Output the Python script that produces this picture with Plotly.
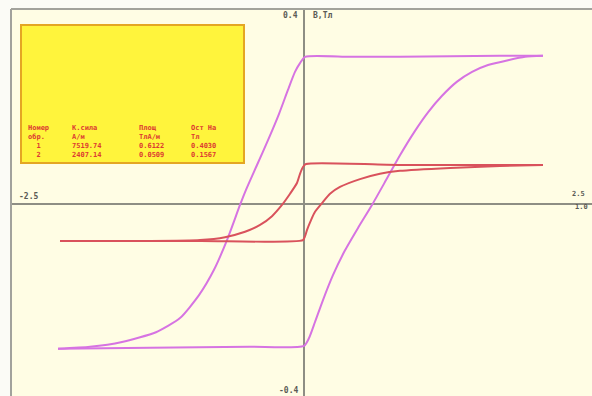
import plotly.graph_objects as go

# Hysteresis loops: field H (axis units) vs induction B (T)
# Loop 1 (magenta) - descending and ascending branches
loop1_desc_h = [2.039, 1.672, 1.246, 0.819, 0.392, 0.009, -0.034, -0.077, -0.137, -0.213,
                -0.307, -0.401, -0.495, -0.546, -0.657, -0.768, -0.896, -1.058, -1.263,
                -1.553, -1.826, -2.099]
loop1_desc_b = [0.304, 0.304, 0.303, 0.302, 0.302, 0.302, 0.289, 0.271, 0.234, 0.185,
                0.131, 0.080, 0.029, -0.002, -0.074, -0.135, -0.187, -0.234, -0.263,
                -0.283, -0.293, -0.297]
loop1_asc_h = [-2.099, -1.314, -0.461, 0.000, 0.043, 0.094, 0.162, 0.247, 0.350, 0.461,
               0.580, 0.700, 0.819, 0.939, 1.058, 1.178, 1.306, 1.434, 1.570, 1.741,
               1.886, 2.039]
loop1_asc_b = [-0.297, -0.295, -0.293, -0.291, -0.275, -0.242, -0.197, -0.146, -0.095,
               -0.049, -0.002, 0.049, 0.100, 0.147, 0.188, 0.222, 0.251, 0.271, 0.285,
               0.295, 0.302, 0.304]

# Loop 2 (red)
loop2_desc_h = [2.039, 1.502, 0.819, 0.017, -0.009, -0.034, -0.060, -0.119, -0.188, -0.273,
                -0.375, -0.503, -0.674, -0.887, -1.314, -1.741, -2.082]
loop2_desc_b = [0.080, 0.080, 0.080, 0.082, 0.076, 0.062, 0.043, 0.021, -0.002, -0.025,
                -0.043, -0.057, -0.068, -0.074, -0.076, -0.076, -0.076]
loop2_asc_h = [-2.082, -0.887, -0.009, 0.009, 0.026, 0.060, 0.094, 0.154, 0.222, 0.307,
               0.478, 0.648, 0.819, 1.246, 1.672, 2.039]
loop2_asc_b = [-0.076, -0.076, -0.074, -0.066, -0.053, -0.033, -0.016, 0.002, 0.021, 0.035,
               0.051, 0.062, 0.068, 0.074, 0.078, 0.080]

# Summary table
table_header_1 = ["Номер", "К.сила", "Площ", "Ост На"]
table_header_2 = ["обр.", "А/м", "ТлА/м", "Тл"]
sample_ids = ["1", "2"]
coercive_force = ["7519.74", "2407.14"]
loop_area = ["0.6122", "0.0509"]
remanence = ["0.4030", "0.1567"]

# Axis end labels
x_min_label, x_max_label, x_mult_label = "-2.5", "2.5", "1.0"
y_max_label, y_min_label, y_title = "0.4", "-0.4", "B,Тл"

W, H = 592, 396
L, T = 11, 9          # plot area origin in pixels
PW, PH = W - L, H - T

MAGENTA = "#d673e2"
RED = "#d9525c"
AXIS = "#8e8e84"
TEXT = "#5a5a55"
TABLE_TXT = "#dc3a32"


def px(x):
    return (x - L) / PW


def py(y):
    return (H - y) / PH


fig = go.Figure()
for hx, by, col in [(loop1_desc_h, loop1_desc_b, MAGENTA), (loop1_asc_h, loop1_asc_b, MAGENTA),
                    (loop2_desc_h, loop2_desc_b, RED), (loop2_asc_h, loop2_asc_b, RED)]:
    fig.add_trace(go.Scatter(x=hx, y=by, mode="lines",
                             line=dict(color=col, width=2, shape="spline", smoothing=0.6),
                             hoverinfo="skip", showlegend=False))

font_small = dict(family="DejaVu Sans Mono", size=8, color=TEXT)
font_tiny = dict(family="DejaVu Sans Mono", size=7, color=TEXT)
annotations = [
    dict(x=px(17), y=py(196), xref="paper", yref="paper", text="<b>%s</b>" % x_min_label,
         xanchor="left", yanchor="middle", showarrow=False, font=font_small),
    dict(x=px(586), y=py(194), xref="paper", yref="paper", text="<b>%s</b>" % x_max_label,
         xanchor="right", yanchor="middle", showarrow=False, font=font_tiny, borderpad=0),
    dict(x=px(589), y=py(207), xref="paper", yref="paper", text="<b>%s</b>" % x_mult_label,
         xanchor="right", yanchor="middle", showarrow=False, font=font_tiny, borderpad=0),
    dict(x=px(300), y=py(15), xref="paper", yref="paper", text="<b>%s</b>" % y_max_label,
         xanchor="right", yanchor="middle", showarrow=False, font=font_small),
    dict(x=px(311), y=py(15), xref="paper", yref="paper", text="<b>%s</b>" % y_title,
         xanchor="left", yanchor="middle", showarrow=False, font=font_small),
    dict(x=px(300), y=py(390), xref="paper", yref="paper", text="<b>%s</b>" % y_min_label,
         xanchor="right", yanchor="middle", showarrow=False, font=font_small),
]

# Table: one text block per column, four lines each
font_tab = dict(family="DejaVu Sans Mono", size=7, color=TABLE_TXT)
col_x = [27, 71, 138, 190]
columns = [
    [table_header_1[0], table_header_2[0], "&nbsp;&nbsp;" + sample_ids[0], "&nbsp;&nbsp;" + sample_ids[1]],
    [table_header_1[1], table_header_2[1], coercive_force[0], coercive_force[1]],
    [table_header_1[2], table_header_2[2], loop_area[0], loop_area[1]],
    [table_header_1[3].replace(" ", "&nbsp;"), table_header_2[3], remanence[0], remanence[1]],
]
for cx, lines in zip(col_x, columns):
    annotations.append(dict(x=px(cx), y=py(123), xref="paper", yref="paper",
                            text="<b>" + "<br>".join(lines) + "</b>",
                            xanchor="left", yanchor="top", align="left", showarrow=False,
                            font=font_tab, borderpad=0))

shapes = [
    # information panel
    dict(type="rect", xref="paper", yref="paper", x0=px(21), x1=px(244), y0=py(163), y1=py(25),
         fillcolor="#fff43c", line=dict(color="#e4a623", width=2), layer="above"),
    # frame edges
    dict(type="line", xref="paper", yref="paper", x0=0, x1=0, y0=0, y1=1,
         line=dict(color="#a2a29c", width=2)),
    dict(type="line", xref="paper", yref="paper", x0=0, x1=1, y0=1, y1=1,
         line=dict(color="#a2a29c", width=2)),
]

x_scale = 293 / 2.5
y_scale = 195 / 0.4
fig.update_layout(
    width=W, height=H, autosize=False,
    margin=dict(l=L, r=0, t=T, b=0, pad=0),
    paper_bgcolor="#fbfbf6",
    plot_bgcolor="#fffde4",
    xaxis=dict(range=[-2.5, (W - 304) / x_scale], showgrid=False, showticklabels=False,
               ticks="", zeroline=True, zerolinecolor=AXIS, zerolinewidth=2, fixedrange=True),
    yaxis=dict(range=[(204 - H) / y_scale, 0.4], showgrid=False, showticklabels=False,
               ticks="", zeroline=True, zerolinecolor=AXIS, zerolinewidth=2, fixedrange=True),
    annotations=annotations,
    shapes=shapes,
    showlegend=False,
)

fig.write_html("out.html")
